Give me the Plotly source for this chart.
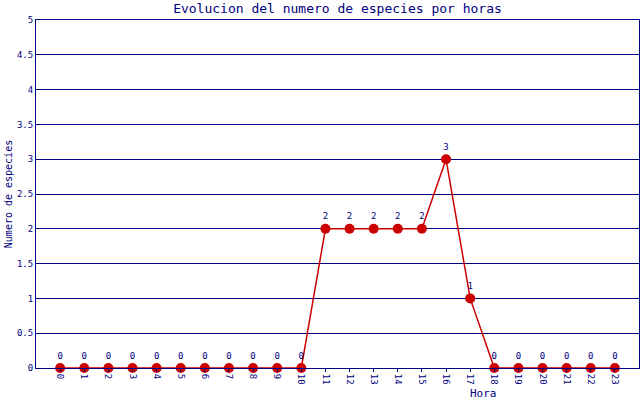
import plotly.graph_objects as go

horas = list(range(24))
especies = [0, 0, 0, 0, 0, 0, 0, 0, 0, 0, 0, 2, 2, 2, 2, 2, 3, 1, 0, 0, 0, 0, 0, 0]
y_ticks = [0, 0.5, 1, 1.5, 2, 2.5, 3, 3.5, 4, 4.5, 5]
y_labels = ["0", "0.5", "1", "1.5", "2", "2.5", "3", "3.5", "4", "4.5", "5"]

navy = "#000080"
red = "#cc0000"
mono = "DejaVu Sans Mono"

fig = go.Figure()
fig.add_trace(go.Scatter(
    x=horas, y=especies, mode="lines+markers+text",
    line=dict(color=red, width=1.5),
    marker=dict(color=red, size=10),
    text=[str(v) for v in especies], textposition="top center",
    textfont=dict(family=mono, size=9, color=navy),
    cliponaxis=False,
))

fig.update_layout(
    width=640, height=400,
    margin=dict(l=36, r=1, t=20, b=32, autoexpand=False),
    paper_bgcolor="white", plot_bgcolor="white",
    showlegend=False,
    title=dict(text="Evolucion del numero de especies por horas",
               xref="paper", x=0.5, xanchor="center", y=0.978, yanchor="middle",
               font=dict(family=mono, size=13, color=navy), automargin=False),
    font=dict(family=mono, size=9, color=navy),
    xaxis=dict(range=[-1, 24], tickmode="array", tickvals=horas,
               ticktext=[str(h) for h in horas], tickangle=90,
               showgrid=False, zeroline=False, showline=True, linecolor=navy,
               linewidth=1, mirror=True, ticks="outside", ticklen=3,
               tickcolor=navy, tickfont=dict(family=mono, size=9, color=navy),
               automargin=False),
    yaxis=dict(range=[0, 5], tickmode="array", tickvals=y_ticks, ticktext=y_labels,
               showgrid=True, gridcolor=navy, gridwidth=1, zeroline=False,
               showline=True, linecolor=navy, linewidth=1, mirror=True,
               ticks="", tickfont=dict(family=mono, size=9, color=navy),
               automargin=False,
               title=dict(text="Numero de especies",
                          font=dict(family=mono, size=10, color=navy), standoff=2)),
    annotations=[dict(text="Hora", xref="paper", yref="paper", x=0.742, y=-0.072,
                      xanchor="center", yanchor="middle", showarrow=False,
                      font=dict(family=mono, size=11, color=navy))],
)

fig.write_html("out.html", config={"displayModeBar": False},
               post_script="document.body.style.margin='0';")
